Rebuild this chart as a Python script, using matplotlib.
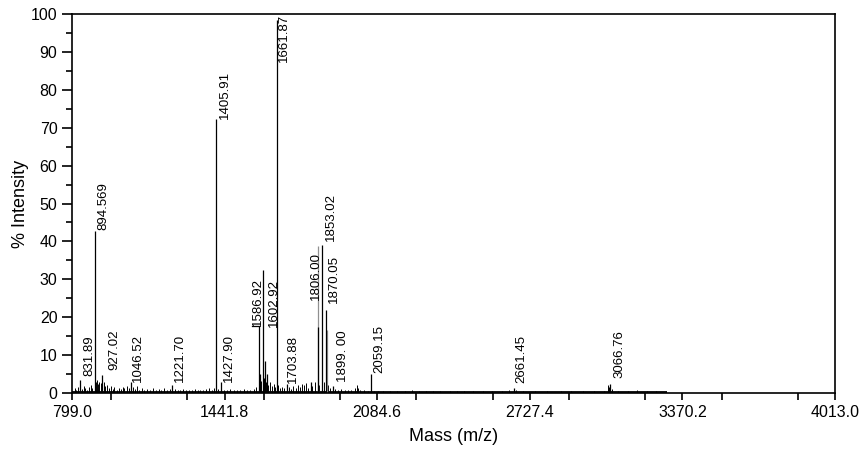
import numpy as np
import matplotlib.pyplot as plt
from matplotlib.ticker import MultipleLocator

plt.rcParams["font.family"] = ["Liberation Sans", "DejaVu Sans"]

# labelled peaks: m/z, intensity (%), label left edge (m/z), label base (%)
peak_labels = ["831.89", "894.569", "927.02", "1046.52", "1221.70", "1405.91",
               "1427.90", "1586.92", "1602.92", "1661.87", "1703.88", "1806.00",
               "1853.02", "1870.05", "1899. 00", "2059.15", "2661.45", "3066.76"]
peak_mz = [831.89, 894.569, 927.02, 1046.52, 1221.70, 1405.91,
           1427.90, 1586.92, 1602.92, 1661.87, 1703.88, 1806.00,
           1853.02, 1870.05, 1899.00, 2059.15, 2661.45, 3066.76]
peak_int = [3.5, 42.8, 4.7, 2.8, 2.0, 72.3,
            2.9, 17.6, 32.5, 98.5, 2.4, 3.0,
            39.0, 22.0, 1.8, 5.0, 1.3, 2.5]
label_mz = [845, 904, 951, 1052, 1229, 1418,
            1435, 1557, 1625, 1667, 1705, 1801,
            1865, 1877, 1915, 2067, 2665, 3078]
label_base = [4.5, 43.0, 6.0, 3.0, 3.0, 72.3,
              2.9, 17.8, 17.4, 87.3, 2.6, 24.5,
              40.0, 23.7, 3.0, 5.3, 2.6, 4.0]

# unlabelled peaks (black)
other_mz = [1834, 1592, 1612, 1620, 1608]
other_int = [17.5, 5.0, 8.5, 5.0, 4.0]
# grey isotope peaks
grey_mz = [1834, 1873]
grey_int = [38.7, 16.6]

# baseline noise spikes
noise_mz = [810, 818, 826, 840, 848, 856, 862, 870, 878, 885, 899, 903, 908, 914,
            920, 934, 940, 948, 955, 962, 970, 978, 988, 996, 1004, 1012, 1020,
            1030, 1038, 1055, 1064, 1072, 1082, 1092, 1104, 1116, 1128, 1140,
            1152, 1164, 1176, 1188, 1200, 1212, 1232, 1244, 1256, 1268, 1280,
            1292, 1304, 1316, 1328, 1340, 1352, 1364, 1376, 1388, 1398, 1414,
            1440, 1452, 1466, 1480, 1494, 1508, 1522, 1536, 1550, 1564, 1576,
            1596, 1616, 1626, 1632, 1640, 1648, 1656, 1668, 1676, 1684, 1694,
            1712, 1722, 1732, 1742, 1752, 1760, 1770, 1778, 1786, 1794, 1812,
            1822, 1840, 1862, 1878, 1886, 1908, 1920, 1934, 1948, 1962, 1976,
            1990, 1998, 2006, 2014, 2030, 2046, 2072, 2090, 2110, 2140, 2170,
            2200, 2230, 2260, 2290, 2320, 2350, 2390, 2420, 2450, 2490, 2530,
            2570, 2610, 2640, 2668, 2700, 2750, 2800, 2860, 2900, 2950, 3000,
            3040, 3058, 3062, 3074, 3100, 3140, 3180, 3220, 3260, 3300]
noise_int = [1.2, 0.8, 1.5, 1.0, 1.8, 1.2, 0.9, 1.6, 2.2, 1.4, 2.8, 3.5, 2.4, 3.0,
             2.6, 2.8, 1.9, 2.2, 1.3, 1.8, 1.0, 1.5, 0.9, 1.3, 1.0, 1.6, 1.2,
             1.8, 1.4, 1.5, 1.0, 1.9, 0.9, 1.2, 0.8, 1.1, 0.9, 1.3,
             0.8, 1.0, 0.9, 1.2, 0.8, 1.0, 1.1, 0.9, 0.8, 1.0, 0.7,
             0.9, 0.8, 1.0, 0.7, 0.9, 0.8, 1.0, 1.2, 0.9, 1.4, 1.1,
             0.9, 0.8, 1.0, 0.7, 0.9, 0.8, 1.0, 0.8, 0.9, 1.1, 1.6,
             3.2, 3.0, 2.2, 3.0, 1.8, 2.4, 1.5, 2.0, 1.4, 1.7, 1.2,
             1.6, 1.0, 1.8, 1.2, 2.2, 1.6, 2.4, 2.0, 2.6, 1.4, 1.8,
             2.8, 2.0, 3.0, 2.0, 1.2, 1.0, 0.8, 1.0, 0.8, 0.7, 0.9,
             1.2, 2.0, 1.4, 0.8, 0.7, 0.6, 0.6, 0.5, 0.6, 0.5, 0.6,
             0.5, 0.7, 0.5, 0.6, 0.5, 0.6, 0.5, 0.6, 0.5, 0.6, 0.5,
             0.6, 0.5, 0.7, 0.8, 0.5, 0.6, 0.5, 0.6, 0.5, 0.6, 0.5,
             0.6, 2.2, 1.6, 1.0, 0.5, 0.6, 0.8, 0.5, 0.5, 0.4]

xticks = [799.0, 1441.8, 2084.6, 2727.4, 3370.2, 4013.0]

fig = plt.figure(figsize=(8.67, 4.49), dpi=100)
ax = fig.add_axes([0.083, 0.1247, 0.88, 0.8441])

# baseline
ax.plot([799, 3300], [0.3, 0.3], color="black", lw=1.3)
ax.vlines(noise_mz, 0, noise_int, color="black", lw=0.7)
ax.vlines(grey_mz, 0, grey_int, color="#909090", lw=0.9)
ax.vlines(other_mz, 0, other_int, color="black", lw=0.9)
ax.vlines(peak_mz, 0, peak_int, color="black", lw=0.9)

for lab, lx, lb in zip(peak_labels, label_mz, label_base):
    ax.text(lx, lb, lab, rotation=90, ha="left", va="bottom", fontsize=9.5)

# leader for 1586.92 label
ax.plot([1559, peak_mz[7]], [17.6, 17.6], color="black", lw=0.9)

ax.set_xlim(799.0, 4013.0)
ax.set_ylim(0, 100)
ax.set_xticks(xticks)
ax.set_xticklabels(["%.1f" % t for t in xticks])
ax.xaxis.set_minor_locator(MultipleLocator(321.4))
ax.yaxis.set_major_locator(MultipleLocator(10))
ax.yaxis.set_minor_locator(MultipleLocator(5))
ax.tick_params(axis="both", which="major", labelsize=11.5, direction="out",
               width=1.2, color="black")
ax.tick_params(axis="x", which="both", length=5, width=1.2)
ax.tick_params(axis="y", which="major", length=7)
ax.tick_params(axis="y", which="minor", length=4, width=1.2)
for s in ax.spines.values():
    s.set_linewidth(1.2)

ax.set_xlabel("Mass (m/z)", fontsize=13, labelpad=6)
ax.set_ylabel("% Intensity", fontsize=13, labelpad=1)

fig.savefig("out.png", dpi=100)
